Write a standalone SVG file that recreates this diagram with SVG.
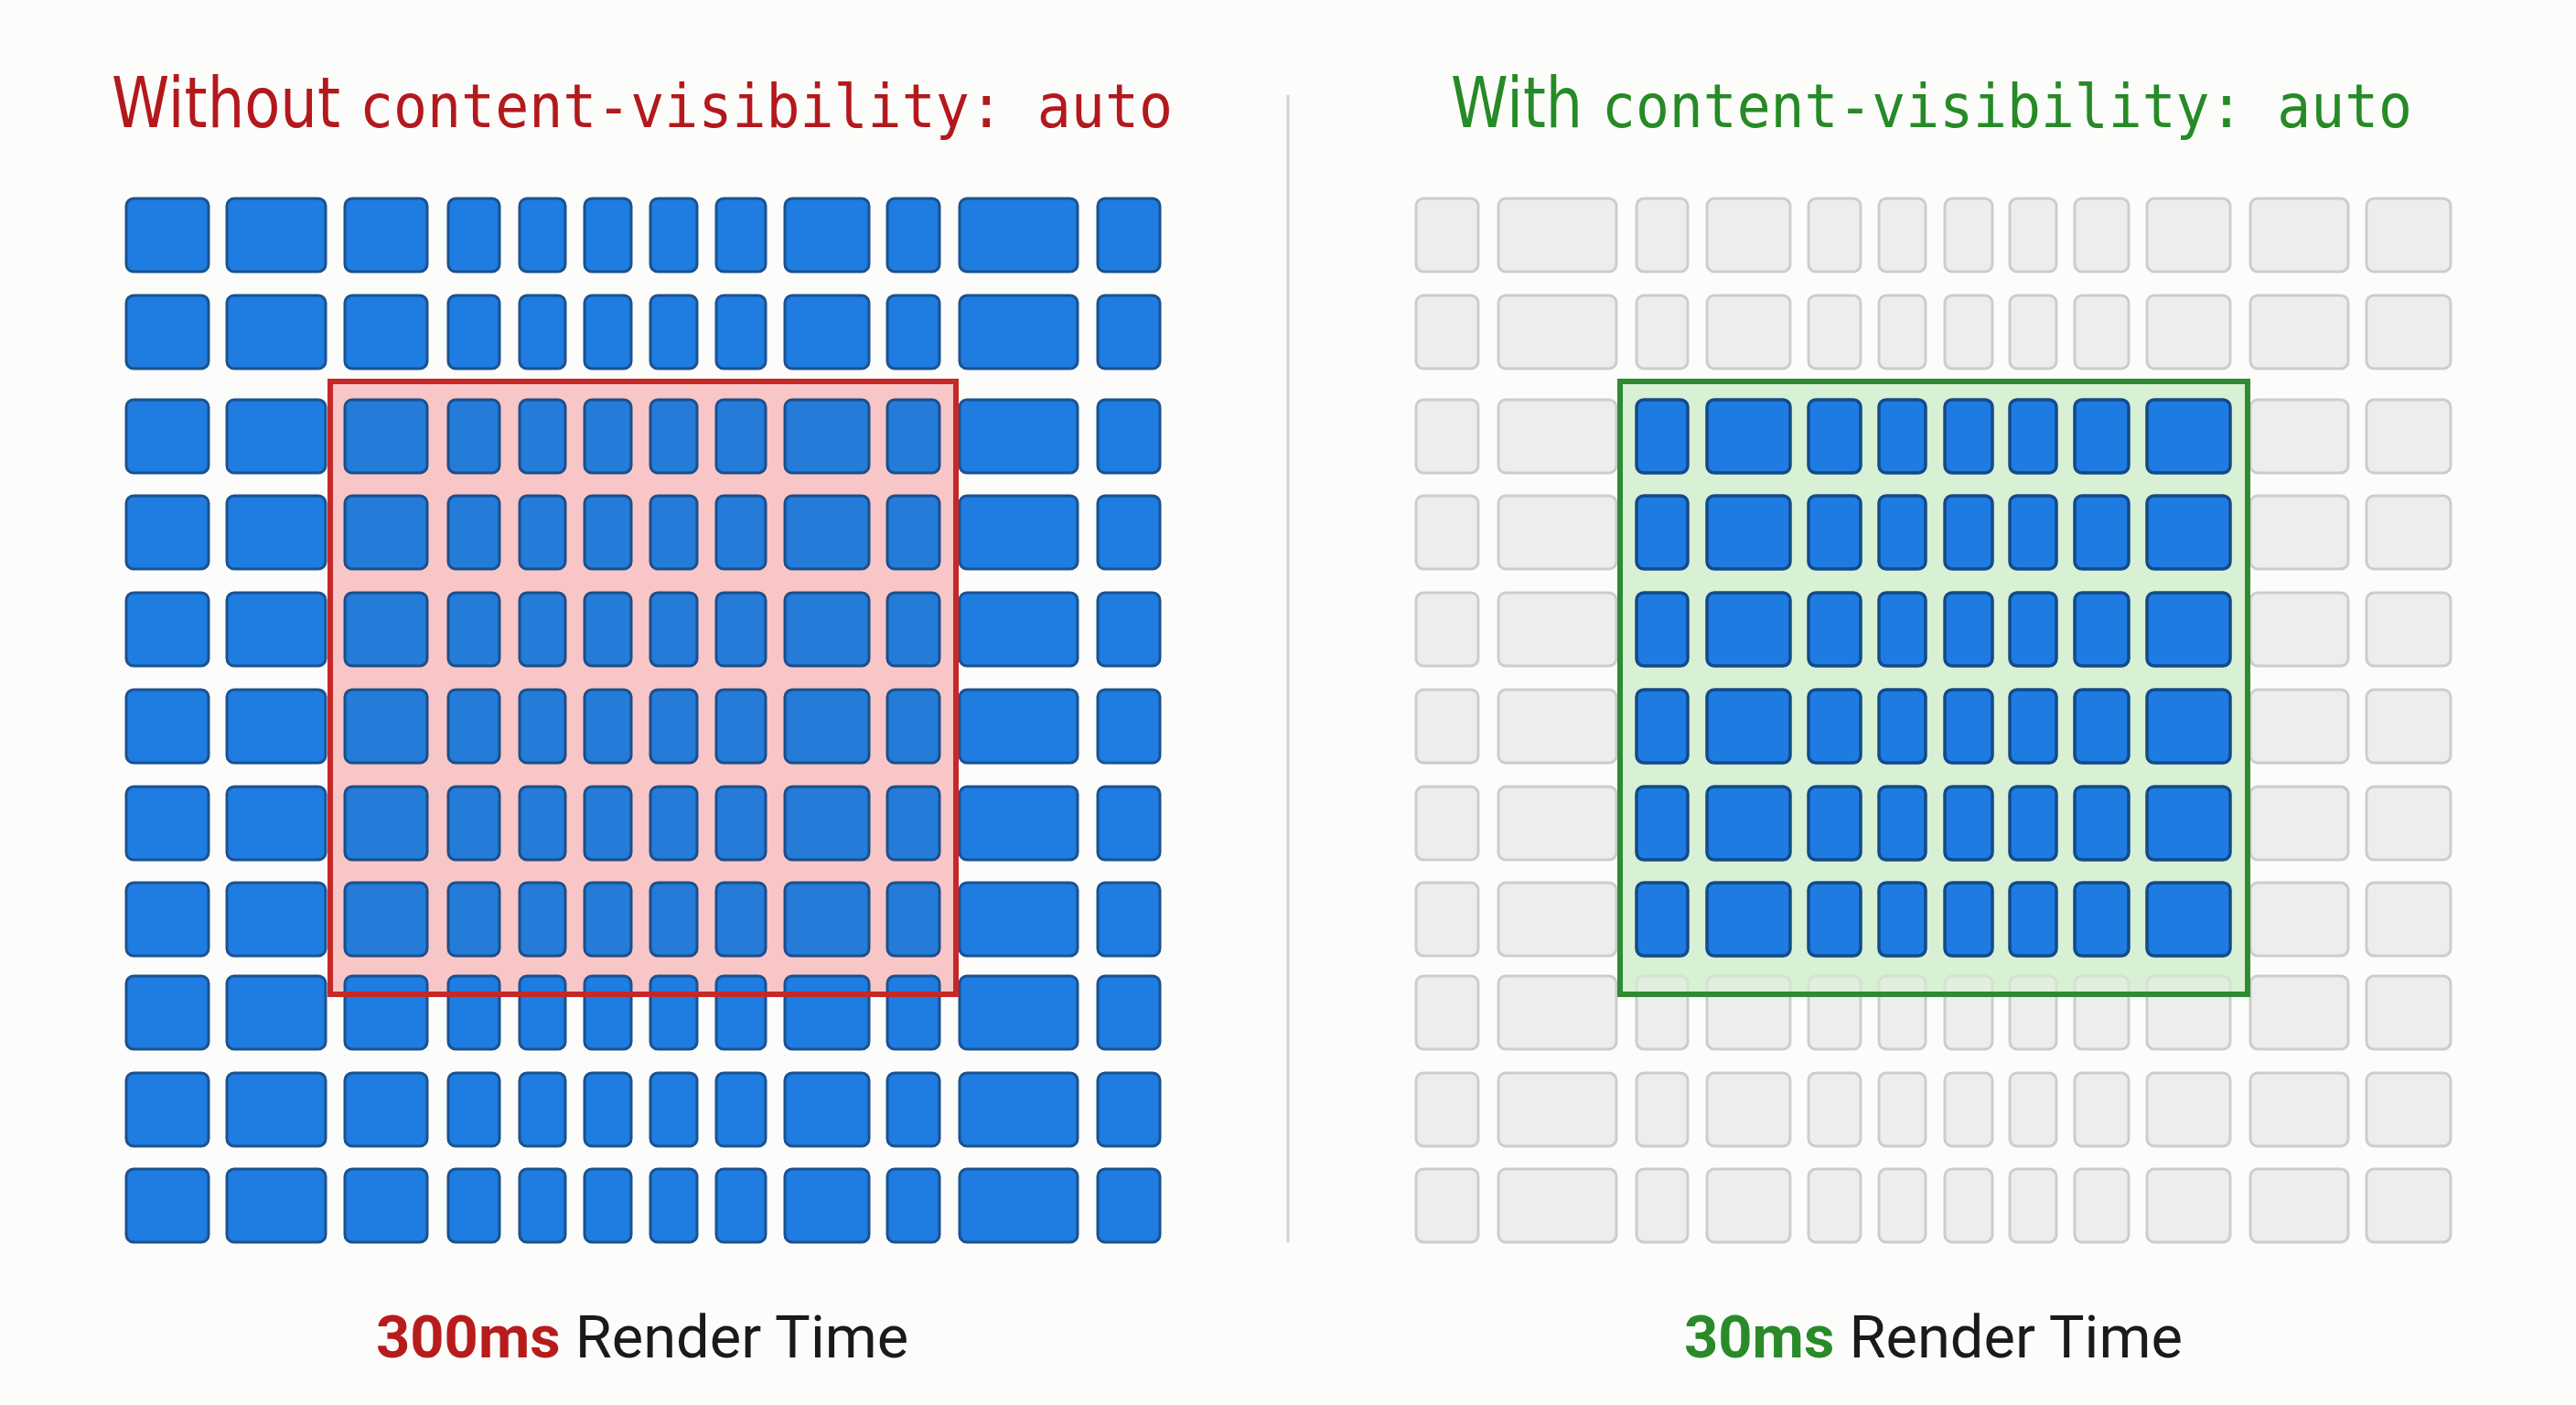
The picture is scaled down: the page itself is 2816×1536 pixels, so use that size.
<svg xmlns="http://www.w3.org/2000/svg" width="2816" height="1536" viewBox="0 0 2816 1536">
<style>
rect.b{fill:#1f7ce0;stroke:#1a5291;stroke-width:3;rx:8px;ry:8px}
rect.bi{fill:#247bd8;stroke:#1b4f8c;stroke-width:3;rx:8px;ry:8px}
rect.bg{fill:#1e7be2;stroke:#134a8a;stroke-width:3.5;rx:8px;ry:8px}
rect.g{fill:#ededed;stroke:#cdcdcd;stroke-width:3;rx:8px;ry:8px}
.title{font-family:"DejaVu Sans","Liberation Sans",sans-serif;font-size:76px}
.mono{font-family:"DejaVu Sans Mono","Liberation Mono",monospace;font-size:65px}
.cap{font-family:Roboto,"Liberation Sans",sans-serif;font-size:65px;fill:#1a1a1a}
</style>
<rect width="2816" height="1536" fill="#fcfcfb"/>

<g id="titles">
<text class="title" x="122" y="139" fill="#b3191c" textLength="250" lengthAdjust="spacingAndGlyphs">Without</text>
<text class="mono" x="393" y="139" fill="#b3191c" textLength="889" lengthAdjust="spacingAndGlyphs">content-visibility: auto</text>
<text class="title" x="1586" y="139" fill="#268a26" textLength="144" lengthAdjust="spacingAndGlyphs">With</text>
<text class="mono" x="1751" y="139" fill="#268a26" textLength="886" lengthAdjust="spacingAndGlyphs">content-visibility: auto</text>
</g>

<g id="divider"><line x1="1408" y1="104" x2="1408" y2="1358" stroke="#d2d2d2" stroke-width="3"/></g>

<g id="left-panel">
<rect id="left-viewport-fill" x="361" y="417" width="684" height="670" fill="#f8c6c6"/>
<g id="left-r1" transform="translate(0 217)"><rect class="b" x="138" width="90" height="80"/><rect class="b" x="248" width="108" height="80"/><rect class="b" x="377" width="90" height="80"/><rect class="b" x="490" width="56" height="80"/><rect class="b" x="568" width="50" height="80"/><rect class="b" x="639" width="51" height="80"/><rect class="b" x="711" width="51" height="80"/><rect class="b" x="783" width="54" height="80"/><rect class="b" x="858" width="92" height="80"/><rect class="b" x="970" width="57" height="80"/><rect class="b" x="1049" width="129" height="80"/><rect class="b" x="1200" width="68" height="80"/></g>
<g id="left-r2" transform="translate(0 323)"><rect class="b" x="138" width="90" height="80"/><rect class="b" x="248" width="108" height="80"/><rect class="b" x="377" width="90" height="80"/><rect class="b" x="490" width="56" height="80"/><rect class="b" x="568" width="50" height="80"/><rect class="b" x="639" width="51" height="80"/><rect class="b" x="711" width="51" height="80"/><rect class="b" x="783" width="54" height="80"/><rect class="b" x="858" width="92" height="80"/><rect class="b" x="970" width="57" height="80"/><rect class="b" x="1049" width="129" height="80"/><rect class="b" x="1200" width="68" height="80"/></g>
<g id="left-r3" transform="translate(0 437)"><rect class="b" x="138" width="90" height="80"/><rect class="b" x="248" width="108" height="80"/><rect class="bi" x="377" width="90" height="80"/><rect class="bi" x="490" width="56" height="80"/><rect class="bi" x="568" width="50" height="80"/><rect class="bi" x="639" width="51" height="80"/><rect class="bi" x="711" width="51" height="80"/><rect class="bi" x="783" width="54" height="80"/><rect class="bi" x="858" width="92" height="80"/><rect class="bi" x="970" width="57" height="80"/><rect class="b" x="1049" width="129" height="80"/><rect class="b" x="1200" width="68" height="80"/></g>
<g id="left-r4" transform="translate(0 542)"><rect class="b" x="138" width="90" height="80"/><rect class="b" x="248" width="108" height="80"/><rect class="bi" x="377" width="90" height="80"/><rect class="bi" x="490" width="56" height="80"/><rect class="bi" x="568" width="50" height="80"/><rect class="bi" x="639" width="51" height="80"/><rect class="bi" x="711" width="51" height="80"/><rect class="bi" x="783" width="54" height="80"/><rect class="bi" x="858" width="92" height="80"/><rect class="bi" x="970" width="57" height="80"/><rect class="b" x="1049" width="129" height="80"/><rect class="b" x="1200" width="68" height="80"/></g>
<g id="left-r5" transform="translate(0 648)"><rect class="b" x="138" width="90" height="80"/><rect class="b" x="248" width="108" height="80"/><rect class="bi" x="377" width="90" height="80"/><rect class="bi" x="490" width="56" height="80"/><rect class="bi" x="568" width="50" height="80"/><rect class="bi" x="639" width="51" height="80"/><rect class="bi" x="711" width="51" height="80"/><rect class="bi" x="783" width="54" height="80"/><rect class="bi" x="858" width="92" height="80"/><rect class="bi" x="970" width="57" height="80"/><rect class="b" x="1049" width="129" height="80"/><rect class="b" x="1200" width="68" height="80"/></g>
<g id="left-r6" transform="translate(0 754)"><rect class="b" x="138" width="90" height="80"/><rect class="b" x="248" width="108" height="80"/><rect class="bi" x="377" width="90" height="80"/><rect class="bi" x="490" width="56" height="80"/><rect class="bi" x="568" width="50" height="80"/><rect class="bi" x="639" width="51" height="80"/><rect class="bi" x="711" width="51" height="80"/><rect class="bi" x="783" width="54" height="80"/><rect class="bi" x="858" width="92" height="80"/><rect class="bi" x="970" width="57" height="80"/><rect class="b" x="1049" width="129" height="80"/><rect class="b" x="1200" width="68" height="80"/></g>
<g id="left-r7" transform="translate(0 860)"><rect class="b" x="138" width="90" height="80"/><rect class="b" x="248" width="108" height="80"/><rect class="bi" x="377" width="90" height="80"/><rect class="bi" x="490" width="56" height="80"/><rect class="bi" x="568" width="50" height="80"/><rect class="bi" x="639" width="51" height="80"/><rect class="bi" x="711" width="51" height="80"/><rect class="bi" x="783" width="54" height="80"/><rect class="bi" x="858" width="92" height="80"/><rect class="bi" x="970" width="57" height="80"/><rect class="b" x="1049" width="129" height="80"/><rect class="b" x="1200" width="68" height="80"/></g>
<g id="left-r8" transform="translate(0 965)"><rect class="b" x="138" width="90" height="80"/><rect class="b" x="248" width="108" height="80"/><rect class="bi" x="377" width="90" height="80"/><rect class="bi" x="490" width="56" height="80"/><rect class="bi" x="568" width="50" height="80"/><rect class="bi" x="639" width="51" height="80"/><rect class="bi" x="711" width="51" height="80"/><rect class="bi" x="783" width="54" height="80"/><rect class="bi" x="858" width="92" height="80"/><rect class="bi" x="970" width="57" height="80"/><rect class="b" x="1049" width="129" height="80"/><rect class="b" x="1200" width="68" height="80"/></g>
<g id="left-r9" transform="translate(0 1067)"><rect class="b" x="138" width="90" height="80"/><rect class="b" x="248" width="108" height="80"/><rect class="b" x="377" width="90" height="80"/><rect class="b" x="490" width="56" height="80"/><rect class="b" x="568" width="50" height="80"/><rect class="b" x="639" width="51" height="80"/><rect class="b" x="711" width="51" height="80"/><rect class="b" x="783" width="54" height="80"/><rect class="b" x="858" width="92" height="80"/><rect class="b" x="970" width="57" height="80"/><rect class="b" x="1049" width="129" height="80"/><rect class="b" x="1200" width="68" height="80"/></g>
<g id="left-r10" transform="translate(0 1173)"><rect class="b" x="138" width="90" height="80"/><rect class="b" x="248" width="108" height="80"/><rect class="b" x="377" width="90" height="80"/><rect class="b" x="490" width="56" height="80"/><rect class="b" x="568" width="50" height="80"/><rect class="b" x="639" width="51" height="80"/><rect class="b" x="711" width="51" height="80"/><rect class="b" x="783" width="54" height="80"/><rect class="b" x="858" width="92" height="80"/><rect class="b" x="970" width="57" height="80"/><rect class="b" x="1049" width="129" height="80"/><rect class="b" x="1200" width="68" height="80"/></g>
<g id="left-r11" transform="translate(0 1278)"><rect class="b" x="138" width="90" height="80"/><rect class="b" x="248" width="108" height="80"/><rect class="b" x="377" width="90" height="80"/><rect class="b" x="490" width="56" height="80"/><rect class="b" x="568" width="50" height="80"/><rect class="b" x="639" width="51" height="80"/><rect class="b" x="711" width="51" height="80"/><rect class="b" x="783" width="54" height="80"/><rect class="b" x="858" width="92" height="80"/><rect class="b" x="970" width="57" height="80"/><rect class="b" x="1049" width="129" height="80"/><rect class="b" x="1200" width="68" height="80"/></g>
<rect id="left-viewport" x="361" y="417" width="684" height="670" fill="none" stroke="#c62828" stroke-width="6"/>
</g>

<g id="right-panel">
<rect id="right-viewport-fill" x="1771" y="417" width="686" height="670" fill="#d8f0d3"/>
<g id="right-r1" transform="translate(0 217)"><rect class="g" x="1548" width="68" height="80"/><rect class="g" x="1638" width="129" height="80"/><rect class="g" x="1789" width="56" height="80"/><rect class="g" x="1866" width="91" height="80"/><rect class="g" x="1977" width="57" height="80"/><rect class="g" x="2054" width="51" height="80"/><rect class="g" x="2126" width="52" height="80"/><rect class="g" x="2197" width="51" height="80"/><rect class="g" x="2268" width="59" height="80"/><rect class="g" x="2347" width="91" height="80"/><rect class="g" x="2460" width="107" height="80"/><rect class="g" x="2587" width="92" height="80"/></g>
<g id="right-r2" transform="translate(0 323)"><rect class="g" x="1548" width="68" height="80"/><rect class="g" x="1638" width="129" height="80"/><rect class="g" x="1789" width="56" height="80"/><rect class="g" x="1866" width="91" height="80"/><rect class="g" x="1977" width="57" height="80"/><rect class="g" x="2054" width="51" height="80"/><rect class="g" x="2126" width="52" height="80"/><rect class="g" x="2197" width="51" height="80"/><rect class="g" x="2268" width="59" height="80"/><rect class="g" x="2347" width="91" height="80"/><rect class="g" x="2460" width="107" height="80"/><rect class="g" x="2587" width="92" height="80"/></g>
<g id="right-r3" transform="translate(0 437)"><rect class="g" x="1548" width="68" height="80"/><rect class="g" x="1638" width="129" height="80"/><rect class="bg" x="1789" width="56" height="80"/><rect class="bg" x="1866" width="91" height="80"/><rect class="bg" x="1977" width="57" height="80"/><rect class="bg" x="2054" width="51" height="80"/><rect class="bg" x="2126" width="52" height="80"/><rect class="bg" x="2197" width="51" height="80"/><rect class="bg" x="2268" width="59" height="80"/><rect class="bg" x="2347" width="91" height="80"/><rect class="g" x="2460" width="107" height="80"/><rect class="g" x="2587" width="92" height="80"/></g>
<g id="right-r4" transform="translate(0 542)"><rect class="g" x="1548" width="68" height="80"/><rect class="g" x="1638" width="129" height="80"/><rect class="bg" x="1789" width="56" height="80"/><rect class="bg" x="1866" width="91" height="80"/><rect class="bg" x="1977" width="57" height="80"/><rect class="bg" x="2054" width="51" height="80"/><rect class="bg" x="2126" width="52" height="80"/><rect class="bg" x="2197" width="51" height="80"/><rect class="bg" x="2268" width="59" height="80"/><rect class="bg" x="2347" width="91" height="80"/><rect class="g" x="2460" width="107" height="80"/><rect class="g" x="2587" width="92" height="80"/></g>
<g id="right-r5" transform="translate(0 648)"><rect class="g" x="1548" width="68" height="80"/><rect class="g" x="1638" width="129" height="80"/><rect class="bg" x="1789" width="56" height="80"/><rect class="bg" x="1866" width="91" height="80"/><rect class="bg" x="1977" width="57" height="80"/><rect class="bg" x="2054" width="51" height="80"/><rect class="bg" x="2126" width="52" height="80"/><rect class="bg" x="2197" width="51" height="80"/><rect class="bg" x="2268" width="59" height="80"/><rect class="bg" x="2347" width="91" height="80"/><rect class="g" x="2460" width="107" height="80"/><rect class="g" x="2587" width="92" height="80"/></g>
<g id="right-r6" transform="translate(0 754)"><rect class="g" x="1548" width="68" height="80"/><rect class="g" x="1638" width="129" height="80"/><rect class="bg" x="1789" width="56" height="80"/><rect class="bg" x="1866" width="91" height="80"/><rect class="bg" x="1977" width="57" height="80"/><rect class="bg" x="2054" width="51" height="80"/><rect class="bg" x="2126" width="52" height="80"/><rect class="bg" x="2197" width="51" height="80"/><rect class="bg" x="2268" width="59" height="80"/><rect class="bg" x="2347" width="91" height="80"/><rect class="g" x="2460" width="107" height="80"/><rect class="g" x="2587" width="92" height="80"/></g>
<g id="right-r7" transform="translate(0 860)"><rect class="g" x="1548" width="68" height="80"/><rect class="g" x="1638" width="129" height="80"/><rect class="bg" x="1789" width="56" height="80"/><rect class="bg" x="1866" width="91" height="80"/><rect class="bg" x="1977" width="57" height="80"/><rect class="bg" x="2054" width="51" height="80"/><rect class="bg" x="2126" width="52" height="80"/><rect class="bg" x="2197" width="51" height="80"/><rect class="bg" x="2268" width="59" height="80"/><rect class="bg" x="2347" width="91" height="80"/><rect class="g" x="2460" width="107" height="80"/><rect class="g" x="2587" width="92" height="80"/></g>
<g id="right-r8" transform="translate(0 965)"><rect class="g" x="1548" width="68" height="80"/><rect class="g" x="1638" width="129" height="80"/><rect class="bg" x="1789" width="56" height="80"/><rect class="bg" x="1866" width="91" height="80"/><rect class="bg" x="1977" width="57" height="80"/><rect class="bg" x="2054" width="51" height="80"/><rect class="bg" x="2126" width="52" height="80"/><rect class="bg" x="2197" width="51" height="80"/><rect class="bg" x="2268" width="59" height="80"/><rect class="bg" x="2347" width="91" height="80"/><rect class="g" x="2460" width="107" height="80"/><rect class="g" x="2587" width="92" height="80"/></g>
<g id="right-r9" transform="translate(0 1067)"><rect class="g" x="1548" width="68" height="80"/><rect class="g" x="1638" width="129" height="80"/><rect class="g" x="1789" width="56" height="80"/><rect class="g" x="1866" width="91" height="80"/><rect class="g" x="1977" width="57" height="80"/><rect class="g" x="2054" width="51" height="80"/><rect class="g" x="2126" width="52" height="80"/><rect class="g" x="2197" width="51" height="80"/><rect class="g" x="2268" width="59" height="80"/><rect class="g" x="2347" width="91" height="80"/><rect class="g" x="2460" width="107" height="80"/><rect class="g" x="2587" width="92" height="80"/></g>
<g id="right-r10" transform="translate(0 1173)"><rect class="g" x="1548" width="68" height="80"/><rect class="g" x="1638" width="129" height="80"/><rect class="g" x="1789" width="56" height="80"/><rect class="g" x="1866" width="91" height="80"/><rect class="g" x="1977" width="57" height="80"/><rect class="g" x="2054" width="51" height="80"/><rect class="g" x="2126" width="52" height="80"/><rect class="g" x="2197" width="51" height="80"/><rect class="g" x="2268" width="59" height="80"/><rect class="g" x="2347" width="91" height="80"/><rect class="g" x="2460" width="107" height="80"/><rect class="g" x="2587" width="92" height="80"/></g>
<g id="right-r11" transform="translate(0 1278)"><rect class="g" x="1548" width="68" height="80"/><rect class="g" x="1638" width="129" height="80"/><rect class="g" x="1789" width="56" height="80"/><rect class="g" x="1866" width="91" height="80"/><rect class="g" x="1977" width="57" height="80"/><rect class="g" x="2054" width="51" height="80"/><rect class="g" x="2126" width="52" height="80"/><rect class="g" x="2197" width="51" height="80"/><rect class="g" x="2268" width="59" height="80"/><rect class="g" x="2347" width="91" height="80"/><rect class="g" x="2460" width="107" height="80"/><rect class="g" x="2587" width="92" height="80"/></g>
<rect id="right-viewport-tint" x="1771" y="1047" width="686" height="40" fill="#d8f0d3" fill-opacity="0.6"/>
<rect id="right-viewport" x="1771" y="417" width="686" height="670" fill="none" stroke="#2e8b32" stroke-width="6"/>
</g>

<g id="captions">
<text class="cap" x="411" y="1484"><tspan font-weight="700" fill="#b71c1c">300ms</tspan> Render Time</text>
<text class="cap" x="1841" y="1484"><tspan font-weight="700" fill="#2a8a2a">30ms</tspan> Render Time</text>
</g>
</svg>
